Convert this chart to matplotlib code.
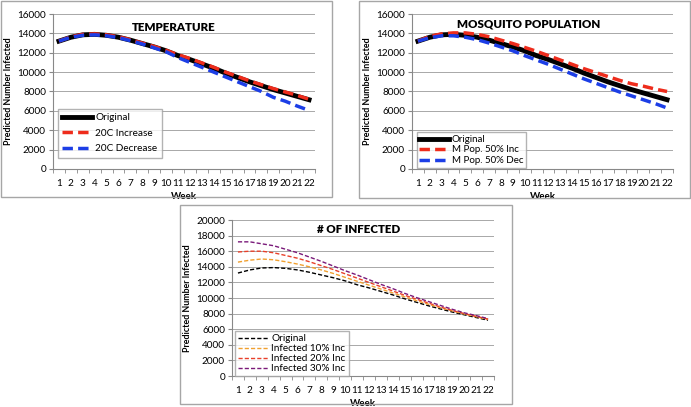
import matplotlib.pyplot as plt
from matplotlib.patches import Rectangle

plt.rcParams['font.family'] = ['Lato', 'DejaVu Sans']

weeks = list(range(1, 23))

original = [13200, 13600, 13850, 13900, 13800, 13600, 13300, 12950, 12600, 12200, 11700,
            11300, 10850, 10400, 9900, 9450, 9000, 8600, 8200, 7850, 7500, 7150]

temp_inc = [13200, 13650, 13900, 13950, 13850, 13650, 13350, 13000, 12650, 12250, 11800,
            11400, 10950, 10500, 10000, 9550, 9100, 8700, 8300, 7950, 7600, 7200]
temp_dec = [13200, 13600, 13800, 13850, 13750, 13550, 13250, 12900, 12500, 12100, 11500,
            11000, 10500, 10000, 9500, 9000, 8500, 8000, 7400, 7000, 6500, 6050]

mosq_inc = [13200, 13700, 13950, 14050, 14050, 13900, 13650, 13300, 12950, 12550, 12150,
            11700, 11250, 10800, 10350, 9950, 9550, 9150, 8800, 8550, 8250, 8000]
mosq_dec = [13200, 13550, 13750, 13750, 13600, 13350, 13000, 12600, 12200, 11700, 11250,
            10800, 10300, 9800, 9300, 8850, 8400, 7950, 7550, 7150, 6750, 6300]

inf_10 = [14600, 14850, 15000, 14900, 14650, 14350, 14000, 13600, 13150, 12650, 12150,
          11650, 11150, 10650, 10150, 9650, 9200, 8750, 8350, 7950, 7600, 7250]
inf_20 = [15900, 16000, 16000, 15800, 15450, 15100, 14650, 14150, 13650, 13100, 12550,
          12000, 11450, 10900, 10350, 9850, 9350, 8850, 8400, 8000, 7650, 7300]
inf_30 = [17200, 17200, 16950, 16700, 16250, 15800, 15250, 14700, 14100, 13500, 12950,
          12350, 11750, 11200, 10600, 10050, 9550, 9050, 8550, 8100, 7750, 7350]

W, H = 691, 407
fig = plt.figure(figsize=(W / 100, H / 100), dpi=100)


def fbox(x0, y0, x1, y1):
    # pixel box (top-left origin) -> figure fraction rect
    return [x0 / W, 1 - y1 / H, (x1 - x0) / W, (y1 - y0) / H]


def frame(x0, y0, x1, y1):
    r = fbox(x0, y0, x1, y1)
    fig.patches.append(Rectangle((r[0], r[1]), r[2], r[3], transform=fig.transFigure,
                                 fill=False, edgecolor='#a6a6a6', linewidth=1.0))


def setup(ax, title, ymax, title_x, title_y):
    ax.set_xlim(0.5, 22.5)
    ax.set_ylim(0, ymax)
    ax.set_yticks(range(0, ymax + 1, 2000))
    ax.set_xticks(weeks)
    ax.set_xticks([w + 0.5 for w in range(0, 23)], minor=True)
    ax.tick_params(axis='x', which='major', length=0, labelsize=7.2, pad=7)
    ax.tick_params(axis='x', which='minor', length=3, color='#888888', direction='out')
    ax.tick_params(axis='y', length=3, color='#888888', labelsize=7.2, pad=2)
    ax.grid(axis='y', color='#a8a8a8', linewidth=0.7)
    ax.set_axisbelow(True)
    for s in ['top', 'right']:
        ax.spines[s].set_visible(False)
    for s in ['left', 'bottom']:
        ax.spines[s].set_color('#888888')
        ax.spines[s].set_linewidth(0.8)
    ax.set_xlabel('Week', fontsize=7, fontweight='bold', labelpad=3)
    ax.set_ylabel('Predicted Number Infected', fontsize=6.4, fontweight='bold', labelpad=3)
    ax.text(title_x, title_y, title, transform=ax.transAxes, fontsize=8.3,
            fontweight='heavy', ha='center', va='top')


# Temperature
frame(1, 1, 332, 197)
ax1 = fig.add_axes(fbox(53, 14, 315, 169))
ax1.plot(weeks, original, color='black', linewidth=3.5, label='Original')
ax1.plot(weeks, temp_inc, color='#ee2c1c', linewidth=2.5, linestyle=(0, (3, 1.5)), label='20C Increase')
ax1.plot(weeks, temp_dec, color='#1c3ee6', linewidth=2.5, linestyle=(0, (3, 1.5)), label='20C Decrease')
setup(ax1, 'TEMPERATURE', 16000, 0.46, 0.95)
ax1.legend(loc='lower left', bbox_to_anchor=(0.01, 0.06), fontsize=7.2, handlelength=3.0,
           frameon=True, fancybox=False, edgecolor='#a0a0a0', borderpad=0.45,
           labelspacing=0.65, handletextpad=0.3, borderaxespad=0.2)

# Mosquito population
frame(359, 1, 690, 198)
ax2 = fig.add_axes(fbox(412, 14, 673, 169))
ax2.plot(weeks, original, color='black', linewidth=3.5, label='Original')
ax2.plot(weeks, mosq_inc, color='#ee2c1c', linewidth=2.5, linestyle=(0, (3, 1.5)), label='M Pop. 50% Inc')
ax2.plot(weeks, mosq_dec, color='#1c3ee6', linewidth=2.5, linestyle=(0, (3, 1.5)), label='M Pop. 50% Dec')
setup(ax2, 'MOSQUITO POPULATION', 16000, 0.445, 0.97)
ax2.legend(loc='lower left', bbox_to_anchor=(0.01, -0.005), fontsize=7, handlelength=3.0,
           frameon=True, fancybox=False, edgecolor='#a0a0a0', borderpad=0.3,
           labelspacing=0.15, handletextpad=0.3, borderaxespad=0.2)

# Number infected
frame(180, 205, 512, 404)
ax3 = fig.add_axes(fbox(232, 220, 494, 376))
ax3.plot(weeks, original, color='black', linewidth=1, linestyle=(0, (3, 1.5)), label='Original')
ax3.plot(weeks, inf_10, color='#f0a030', linewidth=1, linestyle=(0, (3, 1.5)), label='Infected 10% Inc')
ax3.plot(weeks, inf_20, color='#e8402a', linewidth=1, linestyle=(0, (3, 1.5)), label='Infected 20% Inc')
ax3.plot(weeks, inf_30, color='#7a1a7a', linewidth=1, linestyle=(0, (3, 1.5)), label='Infected 30% Inc')
setup(ax3, '# OF INFECTED', 20000, 0.485, 0.975)
ax3.legend(loc='lower left', bbox_to_anchor=(0.005, -0.015), fontsize=7.2, handlelength=3.0,
           frameon=True, fancybox=False, edgecolor='#a0a0a0', borderpad=0.3,
           labelspacing=0.1, handletextpad=0.3, borderaxespad=0.2)

fig.savefig('out.png', dpi=100)
